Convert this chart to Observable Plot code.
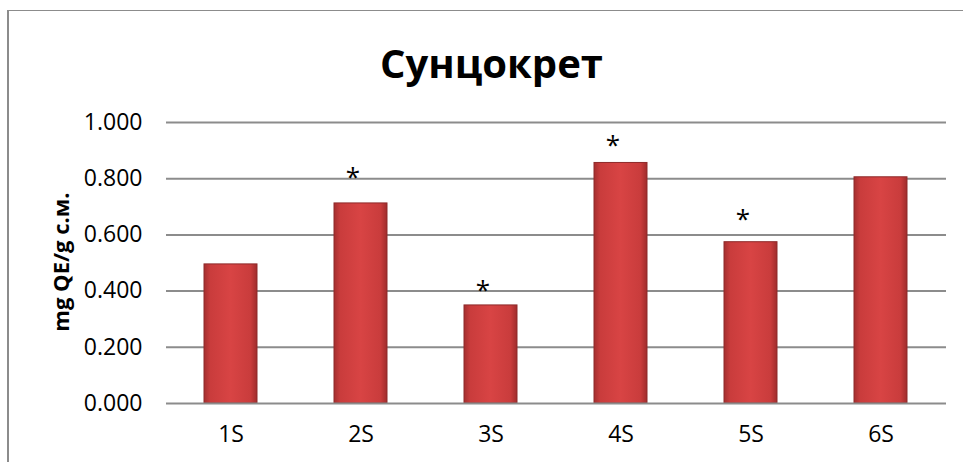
<!DOCTYPE html>
<html>
<head>
<meta charset="utf-8">
<script src="https://cdn.jsdelivr.net/npm/d3@7"></script>
<script src="https://cdn.jsdelivr.net/npm/@observablehq/plot@0.6"></script>
<style>
  html, body { margin: 0; padding: 0; background: #fff; }
  #wrap { position: relative; width: 963px; height: 462px; overflow: hidden; font-family: "Open Sans", sans-serif; }
  #frame { position: absolute; left: 7px; top: 10px; width: 2000px; height: 2000px; border-top: 1.5px solid #8c8c8c; border-left: 2px solid #8c8c8c; }
  #title { position: absolute; left: 0; width: 983px; top: 36px; text-align: center; font-weight: 700; font-size: 40px; line-height: 54px; color: #000; }
  #chart { position: absolute; left: 0; top: 0; }
  #ylabel { position: absolute; left: 60px; top: 262px; transform: translate(-50%, -50%) rotate(-90deg); font-weight: 700; font-size: 22px; white-space: nowrap; color: #000; }
  #chart svg g[aria-label$="tick label"] text { font-size: 23px !important; }
</style>
</head>
<body>
<div id="wrap">
  <div id="frame"></div>
  <div id="title">Сунцокрет</div>
  <div id="ylabel">mg QE/g с.м.</div>
  <div id="chart"></div>
</div>
<script>
const categories = ["1S", "2S", "3S", "4S", "5S", "6S"];
const values = [0.495, 0.712, 0.349, 0.856, 0.574, 0.805];
const marks = ["", "*", "*", "*", "*", ""];
const markLevels = [null, 0.818, 0.416, 0.930, 0.669, null];
const yTicks = [0, 0.2, 0.4, 0.6, 0.8, 1.0];

const data = categories.map((c, i) => ({cat: c, v: values[i], star: marks[i], level: markLevels[i]}));

const plot = Plot.plot({
  width: 963,
  height: 462,
  marginLeft: 166,
  marginRight: 17,
  marginTop: 122,
  marginBottom: 59,
  style: {fontFamily: "Open Sans, sans-serif", fontSize: "23px", color: "#000", background: "transparent"},
  x: {domain: categories, label: null, paddingInner: 0.59, paddingOuter: 0.295},
  y: {domain: [0, 1], label: null},
  marks: [
    Plot.ruleY(yTicks.slice(1), {stroke: "#8c8c8c", strokeWidth: 2, strokeOpacity: 1}),
    Plot.ruleX([0], {frameAnchor: "left", stroke: "#8c8c8c", strokeWidth: 2}),
    Plot.barY(data, {x: "cat", y: "v", fill: "url(#barGrad)", stroke: "#8e2a2a", strokeWidth: 1}),
    Plot.tickY(data, {x: "cat", y: "v", stroke: "url(#bevelGrad)", strokeWidth: 8, dy: 4.5, insetLeft: 6, insetRight: 6}),
    Plot.ruleY([0], {stroke: "#8c8c8c", strokeWidth: 2}),
    Plot.text(data.filter(d => d.star), {x: "cat", y: "level", text: "star", dx: -8, dy: 4, fontSize: 26, fontWeight: 400, fill: "#000"}),
    Plot.axisY(yTicks, {tickFormat: d3.format(".3f"), tickSize: 0, tickPadding: 24, fontSize: 23, fill: "#000", label: null}),
    Plot.axisX({tickSize: 0, tickPadding: 22, fontSize: 23, fill: "#000", label: null})
  ]
});

const ns = "http://www.w3.org/2000/svg";
const defs = document.createElementNS(ns, "defs");
defs.innerHTML = `
  <linearGradient id="barGrad" x1="0" y1="0" x2="1" y2="0">
    <stop offset="0" stop-color="#a52e2e"/>
    <stop offset="0.12" stop-color="#c93c3c"/>
    <stop offset="0.5" stop-color="#d84444"/>
    <stop offset="0.88" stop-color="#c93c3c"/>
    <stop offset="1" stop-color="#a02c2c"/>
  </linearGradient>
  <linearGradient id="bevelGrad" x1="0" y1="0" x2="1" y2="0">
    <stop offset="0" stop-color="#e46262"/>
    <stop offset="1" stop-color="#e25e5e"/>
  </linearGradient>`;
plot.insertBefore(defs, plot.firstChild);
document.getElementById("chart").appendChild(plot);
</script>
</body>
</html>
